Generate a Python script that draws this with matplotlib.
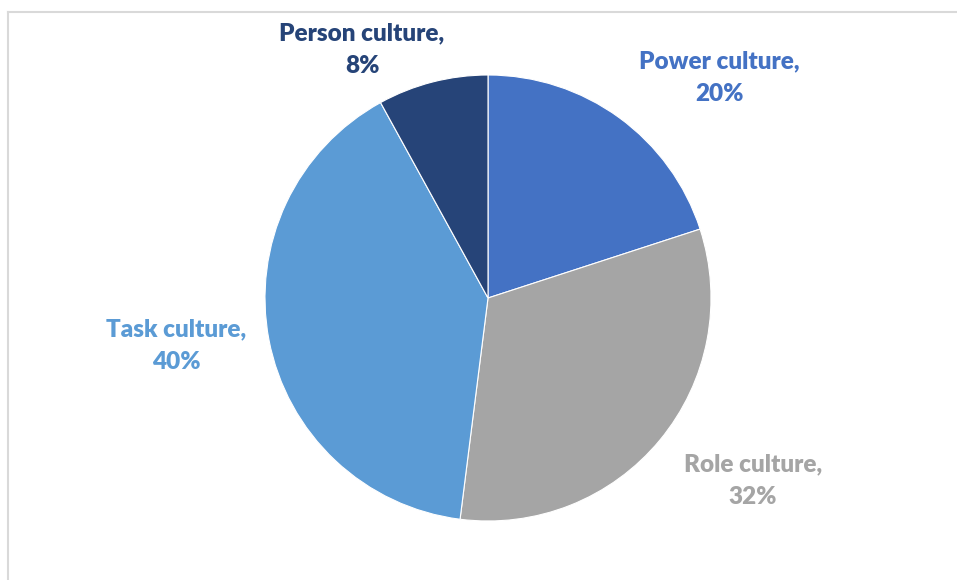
import matplotlib.pyplot as plt
from matplotlib.lines import Line2D

# data
labels = ['Power culture', 'Role culture', 'Task culture', 'Person culture']
values = [20, 32, 40, 8]
colors = ['#4472C4', '#A5A5A5', '#5B9BD5', '#264478']

# label anchor points (pixels, from top-left)
label_pos = [(719, 78), (753, 481), (176, 346), (362, 50)]

W, H = 957, 580
fig = plt.figure(figsize=(W / 100, H / 100), dpi=100)
ax = fig.add_axes([0, 0, 1, 1])

# frame lines of the chart area (top and left visible)
fig.add_artist(Line2D([8 / W, 1], [1 - 12 / H, 1 - 12 / H], color='#d9d9d9', lw=1.5))
fig.add_artist(Line2D([8 / W, 8 / W], [0, 1 - 12 / H], color='#d9d9d9', lw=1.5))

ax.pie(values, colors=colors, startangle=90, counterclock=False,
       center=(488, H - 298), radius=223,
       wedgeprops=dict(edgecolor='white', linewidth=0.8), frame=True)
ax.set_xlim(0, W)
ax.set_ylim(0, H)
ax.set_aspect('equal')
ax.axis('off')

for lab, v, c, (x, y) in zip(labels, values, colors, label_pos):
    ax.text(x, H - y, '%s,\n%d%%' % (lab, v), color=c, ha='center', va='center',
            fontsize=17.5, fontweight='heavy', family='Lato', linespacing=1.6)

fig.savefig('out.png', dpi=100)
